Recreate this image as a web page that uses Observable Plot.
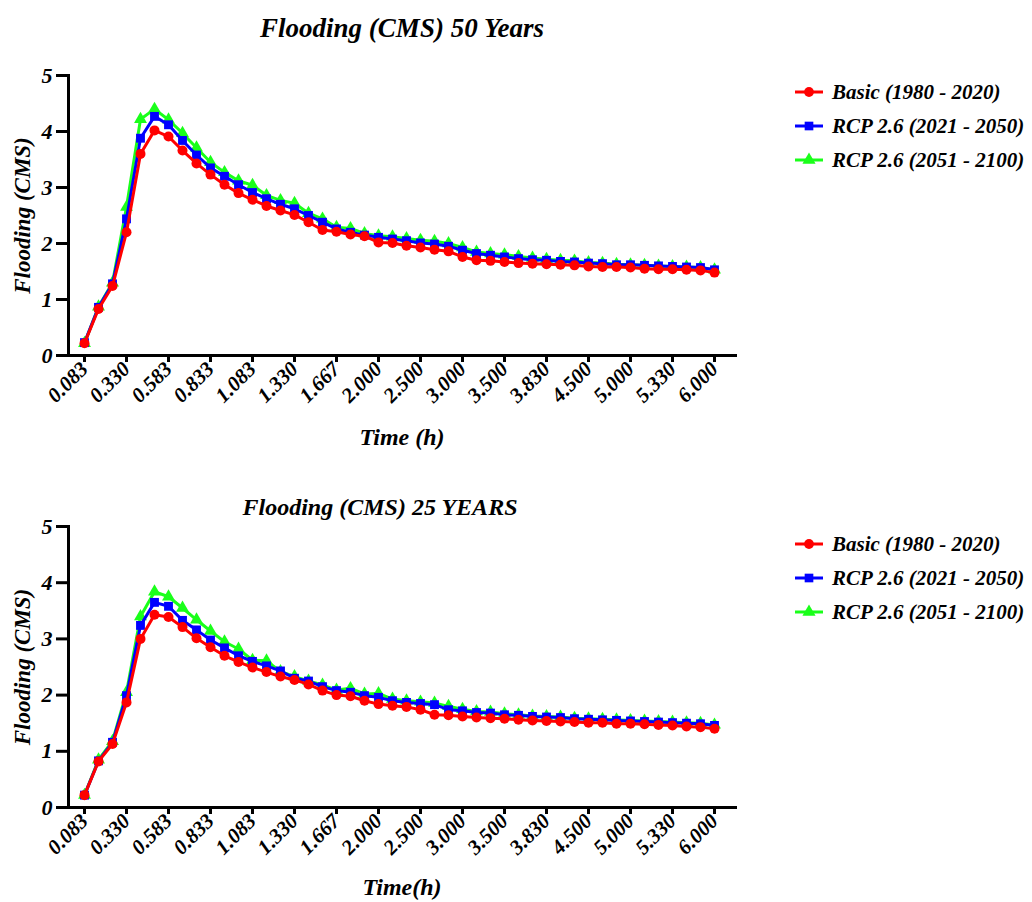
<!DOCTYPE html>
<html>
<head>
<meta charset="utf-8">
<script src="https://cdn.jsdelivr.net/npm/d3@7"></script>
<script src="https://cdn.jsdelivr.net/npm/@observablehq/plot@0.6"></script>
</head>
<body style="margin:0;background:#fff">
<div id="wrap"></div>
<script>
// Time categories (h)
const times = ["0.083","0.167","0.250","0.330","0.417","0.500","0.583","0.667","0.750","0.833","0.917","1.000","1.083","1.167","1.250","1.330","1.417","1.500","1.667","1.750","1.833","2.000","2.167","2.333","2.500","2.667","2.833","3.000","3.167","3.333","3.500","3.667","3.750","3.830","4.000","4.250","4.500","4.667","4.833","5.000","5.167","5.250","5.330","5.500","5.750","6.000"];
const tickLabels = ["0.083","0.330","0.583","0.833","1.083","1.330","1.667","2.000","2.500","3.000","3.500","3.830","4.500","5.000","5.330","6.000"];

const seriesNames = ["Basic (1980 - 2020)", "RCP 2.6 (2021 - 2050)", "RCP 2.6 (2051 - 2100)"];
const seriesColors = ["#ff0000", "#0000ff", "#1aff1a"];
const seriesSymbols = ["circle", "square", "triangle"];

// 50 years
const basic50 = [0.22,0.83,1.24,2.20,3.60,4.02,3.91,3.66,3.43,3.23,3.05,2.90,2.78,2.67,2.59,2.51,2.38,2.24,2.21,2.16,2.13,2.02,2.01,1.96,1.93,1.89,1.86,1.76,1.70,1.69,1.67,1.65,1.64,1.63,1.62,1.61,1.59,1.58,1.58,1.57,1.55,1.54,1.54,1.53,1.52,1.48];
const rcpA50  = [0.23,0.86,1.28,2.44,3.88,4.27,4.12,3.84,3.58,3.35,3.20,3.05,2.91,2.80,2.70,2.62,2.50,2.38,2.26,2.20,2.15,2.11,2.08,2.05,2.01,1.99,1.95,1.88,1.82,1.79,1.76,1.73,1.71,1.70,1.68,1.67,1.65,1.64,1.62,1.62,1.61,1.60,1.59,1.58,1.57,1.53];
const rcpB50  = [0.22,0.87,1.30,2.65,4.22,4.40,4.21,3.97,3.71,3.45,3.27,3.12,3.04,2.86,2.77,2.72,2.54,2.44,2.29,2.27,2.18,2.14,2.12,2.09,2.06,2.04,2.00,1.93,1.85,1.82,1.80,1.77,1.74,1.72,1.70,1.69,1.66,1.65,1.63,1.62,1.61,1.60,1.59,1.58,1.57,1.53];

// 25 years
const basic25 = [0.22,0.82,1.13,1.87,3.00,3.43,3.39,3.21,3.01,2.85,2.70,2.59,2.49,2.41,2.33,2.27,2.19,2.08,2.00,1.98,1.90,1.84,1.81,1.79,1.74,1.65,1.64,1.62,1.60,1.59,1.58,1.56,1.55,1.54,1.53,1.52,1.51,1.51,1.49,1.49,1.48,1.47,1.46,1.44,1.43,1.40];
const rcpA25  = [0.22,0.83,1.16,1.99,3.24,3.65,3.58,3.33,3.16,2.98,2.84,2.70,2.60,2.52,2.43,2.30,2.25,2.15,2.08,2.05,1.99,1.96,1.90,1.87,1.85,1.83,1.74,1.72,1.69,1.68,1.65,1.64,1.62,1.61,1.60,1.58,1.57,1.56,1.55,1.54,1.53,1.52,1.51,1.50,1.49,1.46];
const rcpB25  = [0.22,0.85,1.18,2.05,3.40,3.84,3.75,3.55,3.34,3.14,2.95,2.82,2.62,2.61,2.42,2.33,2.25,2.18,2.09,2.12,2.02,2.03,1.93,1.90,1.88,1.86,1.80,1.75,1.71,1.70,1.67,1.65,1.63,1.62,1.61,1.59,1.58,1.57,1.56,1.55,1.54,1.53,1.52,1.51,1.50,1.47];

const yTicks = [0, 1, 2, 3, 4, 5];
const FONT = '"Liberation Serif", "Times New Roman", serif';

function toRows(arrays) {
  const rows = [];
  arrays.forEach((arr, s) => arr.forEach((v, i) => rows.push({t: times[i], v, s})));
  return rows;
}

function panel({arrays, title, titleSize, titleDy, titleDx, xLabel, xLabelDy, height, marginTop, marginBottom}) {
  const rows = toRows(arrays);
  const order = [2, 1, 0]; // green, blue, then red on top
  const marks = [];
  for (const s of order) {
    const d = rows.filter(r => r.s === s);
    marks.push(Plot.line(d, {x: "t", y: "v", stroke: seriesColors[s], strokeWidth: 3}));
    marks.push(Plot.dot(d, {x: "t", y: "v", fill: seriesColors[s], stroke: "none", symbol: () => seriesSymbols[s], r: s === 2 ? 4.8 : 5}));
  }
  const txt = {fontWeight: "bold", fontStyle: "italic", fill: "#000"};
  const svg = Plot.plot({
    width: 760,
    height,
    marginLeft: 68,
    marginRight: 25,
    marginTop,
    marginBottom,
    style: {background: "transparent", overflow: "visible"},
    x: {type: "point", domain: times, range: [76, 722], padding: 0},
    y: {domain: [0, 5], range: [height - marginBottom, marginTop]},
    symbol: {type: "identity"},
    marks: [
      Plot.axisY({ticks: yTicks, tickSize: 12, tickPadding: 4, fontSize: 22, strokeWidth: 3, label: null, tickFormat: d => d, ...txt}),
      Plot.axisX({ticks: tickLabels, tickSize: 7, tickPadding: 3, tickRotate: -45, fontSize: 21, strokeWidth: 3, label: null, ...txt}),
      Plot.frame({anchor: "left", strokeWidth: 3, stroke: "#000"}),
      Plot.frame({anchor: "bottom", strokeWidth: 3, stroke: "#000"}),
      ...marks,
      Plot.text([title], {text: d => d, frameAnchor: "top", lineAnchor: "middle", textAnchor: "middle", dy: titleDy, dx: titleDx, fontSize: titleSize, ...txt}),
      Plot.text([xLabel], {text: d => d, frameAnchor: "bottom", lineAnchor: "middle", textAnchor: "middle", dy: xLabelDy, fontSize: 24, ...txt}),
      Plot.text(["Flooding (CMS)"], {text: d => d, frameAnchor: "left", lineAnchor: "middle", textAnchor: "middle", rotate: -90, dx: -46, fontSize: 23, ...txt})
    ]
  });
  svg.style.fontFamily = FONT;
  svg.querySelectorAll("text, g").forEach(el => el.style.fontFamily = FONT);
  svg.style.position = "absolute";
  svg.style.left = "0px";
  return svg;
}

function legend(top) {
  const div = document.createElement("div");
  Object.assign(div.style, {position: "absolute", left: "795px", top: top + "px", fontFamily: FONT, fontWeight: "bold", fontStyle: "italic", fontSize: "21px", color: "#000"});
  seriesNames.forEach((name, s) => {
    const row = document.createElement("div");
    Object.assign(row.style, {position: "absolute", left: "0px", top: (s * 34) + "px", whiteSpace: "nowrap", display: "flex", alignItems: "center", height: "20px"});
    const svg = d3.create("svg").attr("width", 28).attr("height", 20);
    svg.append("line").attr("x1", 0).attr("x2", 28).attr("y1", 10).attr("y2", 10).attr("stroke", seriesColors[s]).attr("stroke-width", 3);
    svg.append("path").attr("transform", "translate(14,10)").attr("fill", seriesColors[s])
      .attr("d", d3.symbol(s === 0 ? d3.symbolCircle : s === 1 ? d3.symbolSquare : d3.symbolTriangle, 75)());
    row.appendChild(svg.node());
    const span = document.createElement("span");
    span.style.marginLeft = "9px";
    span.style.fontFamily = FONT;
    span.textContent = name;
    row.appendChild(span);
    div.appendChild(row);
  });
  return div;
}

const wrap = document.getElementById("wrap");
Object.assign(wrap.style, {position: "relative", width: "1032px", height: "902px", fontFamily: FONT});

const p1 = panel({arrays: [basic50, rcpA50, rcpB50], title: "Flooding (CMS) 50 Years", titleSize: 27, titleDy: -47, titleDx: 0,
  xLabel: "Time (h)", xLabelDy: 82, height: 460, marginTop: 75, marginBottom: 105});
p1.style.top = "0px";
wrap.appendChild(p1);

const p2 = panel({arrays: [basic25, rcpA25, rcpB25], title: "Flooding (CMS) 25 YEARS", titleSize: 24, titleDy: -19, titleDx: -22,
  xLabel: "Time(h)", xLabelDy: 80, height: 442, marginTop: 66, marginBottom: 95});
p2.style.top = "460px";
wrap.appendChild(p2);

wrap.appendChild(legend(82));
wrap.appendChild(legend(534));
</script>
</body>
</html>
